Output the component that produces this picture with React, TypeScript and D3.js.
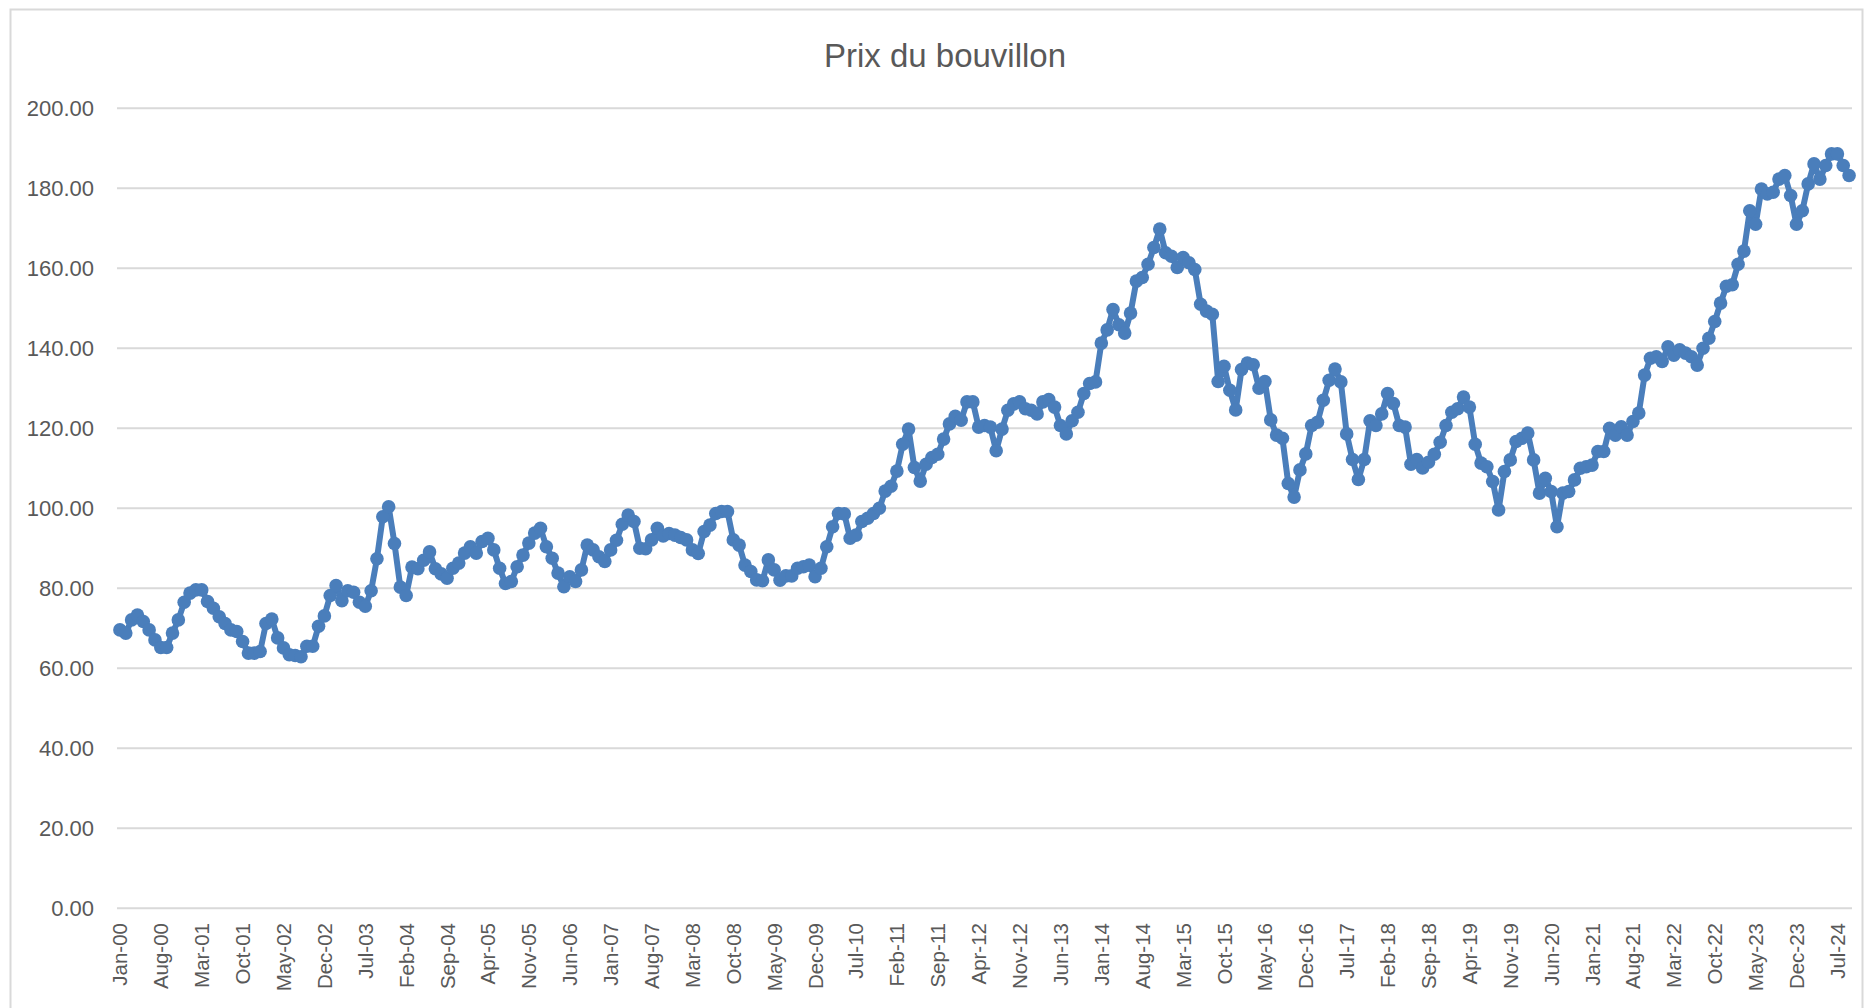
import React from 'react';
import * as d3 from 'd3';

const prices: number[] = [
  69.6, 68.8, 72.1, 73.3, 71.7, 69.6, 67.1, 65.2, 65.2, 68.8,
  72.1, 76.5, 78.8, 79.6, 79.6, 76.7, 75.0, 72.9, 71.2, 69.6,
  69.2, 66.7, 63.8, 63.8, 64.2, 71.2, 72.3, 67.6, 65.1, 63.4,
  63.2, 62.9, 65.5, 65.5, 70.5, 73.1, 78.2, 80.7, 76.9, 79.4,
  79.0, 76.5, 75.5, 79.4, 87.4, 97.9, 100.4, 91.2, 80.3, 78.2,
  85.3, 84.9, 87.0, 89.1, 84.9, 83.6, 82.5, 85.0, 86.3, 88.8,
  90.4, 88.8, 91.7, 92.5, 89.6, 85.0, 81.2, 81.7, 85.4, 88.3,
  91.3, 93.8, 95.0, 90.4, 87.5, 83.8, 80.4, 82.9, 81.7, 84.6,
  90.8, 89.6, 87.9, 86.7, 89.6, 92.0, 96.0, 98.3, 96.7, 90.0,
  89.9, 92.1, 95.0, 93.1, 93.7, 93.3, 92.7, 92.1, 89.6, 88.7,
  94.2, 95.8, 98.7, 99.2, 99.2, 92.1, 90.8, 85.8, 84.2, 82.1,
  81.9, 87.1, 84.6, 82.0, 83.1, 83.1, 85.0, 85.4, 85.8, 82.9,
  85.0, 90.4, 95.4, 98.7, 98.6, 92.5, 93.3, 96.7, 97.5, 98.7,
  100.0, 104.3, 105.5, 109.3, 116.0, 119.8, 110.2, 106.8, 111.0, 112.7,
  113.5, 117.3, 121.1, 123.0, 122.0, 126.6, 126.6, 120.3, 120.7, 120.3,
  114.4, 119.8, 124.5, 126.1, 126.6, 124.9, 124.5, 123.6, 126.6, 127.2,
  125.3, 120.7, 118.6, 121.9, 124.0, 128.7, 131.2, 131.6, 141.3, 144.6,
  149.7, 145.9, 143.8, 148.8, 156.8, 157.7, 161.0, 165.2, 169.8, 163.9,
  163.0, 160.2, 162.7, 161.4, 159.7, 151.0, 149.3, 148.5, 131.7, 135.5,
  129.5, 124.6, 134.7, 136.3, 135.9, 130.0, 131.7, 122.1, 118.3, 117.5,
  106.2, 102.8, 109.6, 113.6, 120.7, 121.5, 127.0, 132.0, 134.8, 131.6,
  118.6, 112.2, 107.2, 112.2, 121.9, 120.7, 123.6, 128.7, 126.2, 120.7,
  120.3, 111.0, 112.2, 110.1, 111.5, 113.5, 116.5, 120.7, 124.0, 124.9,
  127.8, 125.3, 116.0, 111.3, 110.4, 106.7, 99.6, 109.2, 112.1, 116.7,
  117.5, 118.8, 112.1, 103.8, 107.5, 104.2, 95.4, 103.8, 104.2, 107.1,
  110.0, 110.4, 110.8, 114.2, 114.2, 120.0, 118.3, 120.4, 118.3, 121.7,
  123.8, 133.3, 137.5, 137.9, 136.7, 140.4, 138.3, 139.6, 138.8, 137.9,
  135.8, 140.0, 142.5, 146.7, 151.3, 155.5, 155.9, 161.0, 164.3, 174.4,
  171.0, 179.8, 178.6, 179.0, 182.3, 183.2, 178.2, 171.0, 174.4, 181.1,
  186.1, 182.3, 185.7, 188.6, 188.6, 185.7, 183.2,
];

const tickLabels: string[] = [
  'Jan-00', 'Aug-00', 'Mar-01', 'Oct-01', 'May-02', 'Dec-02', 'Jul-03', 'Feb-04',
  'Sep-04', 'Apr-05', 'Nov-05', 'Jun-06', 'Jan-07', 'Aug-07', 'Mar-08', 'Oct-08',
  'May-09', 'Dec-09', 'Jul-10', 'Feb-11', 'Sep-11', 'Apr-12', 'Nov-12', 'Jun-13',
  'Jan-14', 'Aug-14', 'Mar-15', 'Oct-15', 'May-16', 'Dec-16', 'Jul-17', 'Feb-18',
  'Sep-18', 'Apr-19', 'Nov-19', 'Jun-20', 'Jan-21', 'Aug-21', 'Mar-22', 'Oct-22',
  'May-23', 'Dec-23', 'Jul-24',
];
const tickStep = 7;
const yTicks: number[] = [0, 20, 40, 60, 80, 100, 120, 140, 160, 180, 200];
const title = 'Prix du bouvillon';

export default function App() {
  const W = 1865;
  const H = 1008;
  const x = d3
    .scaleBand<number>()
    .domain(d3.range(prices.length))
    .range([117, 1852]);
  const cx = (i: number) => (x(i) as number) + x.bandwidth() / 2;
  const y = d3.scaleLinear().domain([0, 200]).range([908.3, 108.3]);
  const line = d3
    .line<number>()
    .x((_, i) => cx(i))
    .y((d) => y(d));
  const font = "'Liberation Sans', Arial, sans-serif";
  const grey = '#595959';
  const blue = '#4a7ebb';

  return (
    <svg
      width={W}
      height={H}
      style={{ position: 'absolute', left: 0, top: 0, background: '#fff' }}
    >
      <rect x={0} y={0} width={W} height={H} fill="#fff" />
      <rect
        x={10.5}
        y={9.5}
        width={1852}
        height={1010}
        fill="none"
        stroke="#d9d9d9"
        strokeWidth={2}
      />
      <text
        x={945}
        y={55}
        textAnchor="middle"
        dominantBaseline="central"
        fontFamily={font}
        fontSize={33}
        fill={grey}
      >
        {title}
      </text>
      {yTicks.map((t) => (
        <g key={t}>
          <line
            x1={117}
            x2={1852}
            y1={y(t)}
            y2={y(t)}
            stroke="#d9d9d9"
            strokeWidth={2}
          />
          <text
            x={94}
            y={y(t)}
            textAnchor="end"
            dominantBaseline="central"
            fontFamily={font}
            fontSize={22}
            fill={grey}
          >
            {t.toFixed(2)}
          </text>
        </g>
      ))}
      {tickLabels.map((lab, k) => {
        const px = cx(k * tickStep);
        return (
          <text
            key={lab}
            transform={`translate(${px},923) rotate(-90)`}
            textAnchor="end"
            dominantBaseline="central"
            fontFamily={font}
            fontSize={20.5}
            fill={grey}
          >
            {lab}
          </text>
        );
      })}
      <path
        d={line(prices) || ''}
        fill="none"
        stroke={blue}
        strokeWidth={6}
        strokeLinejoin="round"
        strokeLinecap="round"
      />
      {prices.map((v, i) => (
        <circle key={i} cx={cx(i)} cy={y(v)} r={6.8} fill={blue} />
      ))}
    </svg>
  );
}
